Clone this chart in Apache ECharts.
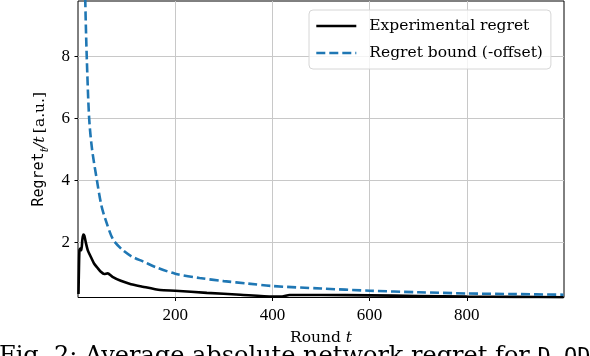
<!DOCTYPE html>
<html>
<head>
<meta charset="utf-8">
<script src="https://cdn.jsdelivr.net/npm/echarts@6/dist/echarts.min.js"></script>
<style>
html,body{margin:0;padding:0;background:#fff;}
#c{width:590px;height:356px;}
</style>
</head>
<body>
<div id="c"></div>
<script>
// ---- data ----
var xTicks = [200, 400, 600, 800];
var yTicks = [2, 4, 6, 8];
var seriesNames = ['Experimental regret', 'Regret bound (-offset)'];
var expT = [1, 2, 3, 5, 7, 9, 11, 13, 16, 20, 23, 28, 33, 40, 47, 54, 61, 71, 88, 109, 133, 169, 200, 265, 334, 400, 420, 435, 500, 600, 700, 800, 900, 999];
var expV = [0.33, 1.2, 1.75, 1.8, 1.75, 2.1, 2.25, 2.22, 2.0, 1.75, 1.64, 1.48, 1.32, 1.18, 1.05, 0.98, 1.0, 0.89, 0.76, 0.65, 0.57, 0.46, 0.44, 0.37, 0.31, 0.25, 0.25, 0.3, 0.3, 0.29, 0.27, 0.25, 0.24, 0.23];
var bndT = [10, 15, 18, 23, 29, 39, 48, 57, 72, 90, 110, 136, 160, 200, 250, 300, 350, 400, 500, 600, 700, 800, 900, 999];
var bndV = [14.5, 9.8, 8.0, 6.0, 5.0, 4.0, 3.2, 2.72, 2.1, 1.78, 1.55, 1.37, 1.2, 0.99, 0.85, 0.75, 0.67, 0.59, 0.51, 0.44, 0.39, 0.35, 0.33, 0.31];
var xRange = [0, 1000];
var yRange = [0.22, 9.8];

function pairs(a, b) { return a.map(function (v, i) { return [v, b[i]]; }); }

var SERIF = '"DejaVu Serif", "Liberation Serif", serif';
var NUM = '"Liberation Serif", "DejaVu Serif", serif';
var MONO = '"DejaVu Sans Mono", "Liberation Mono", monospace';

var chart = echarts.init(document.getElementById('c'), null, { renderer: 'canvas' });
var gridLine = { show: true, lineStyle: { color: '#c8c8c8', width: 1 } };
chart.setOption({
  animation: false,
  backgroundColor: '#fff',
  grid: { left: 78, right: 26, top: 1, height: 296.5, show: true, borderColor: '#000', borderWidth: 1, backgroundColor: 'transparent' },
  legend: {
    orient: 'vertical', left: 309, top: 10,
    data: seriesNames,
    itemWidth: 40, itemHeight: 14, itemGap: 11,
    padding: [8, 8, 8, 6],
    backgroundColor: 'rgba(255,255,255,0.8)',
    borderColor: '#d6d6d6', borderWidth: 1, borderRadius: 4,
    itemStyle: { opacity: 0 },
    lineStyle: { width: 2.6 },
    textStyle: { fontFamily: SERIF, fontSize: 15.5, color: '#000', padding: [0, 0, 0, 8], lineHeight: 16 }
  },
  xAxis: {
    type: 'value', min: xRange[0], max: xRange[1],
    axisLine: { show: false },
    axisTick: { show: true, inside: false, length: 3.5, customValues: xTicks, lineStyle: { color: '#000', width: 1 } },
    axisLabel: { customValues: xTicks, fontFamily: NUM, fontSize: 17, color: '#000', margin: 10 },
    splitLine: Object.assign({ customValues: xTicks }, gridLine),
    name: '{r|Round }{i|t}', nameLocation: 'middle', nameGap: 32,
    nameTextStyle: { rich: { r: { fontFamily: SERIF, fontSize: 15.5, color: '#000' }, i: { fontFamily: SERIF, fontStyle: 'italic', fontSize: 15.5, color: '#000' } } }
  },
  yAxis: {
    type: 'value', min: yRange[0], max: yRange[1],
    axisLine: { show: false },
    axisTick: { show: true, inside: false, length: 3.5, customValues: yTicks, lineStyle: { color: '#000', width: 1 } },
    axisLabel: { customValues: yTicks, fontFamily: NUM, fontSize: 17, color: '#000', margin: 8 },
    splitLine: Object.assign({ customValues: yTicks }, gridLine),
    name: '{m|Regret}{s|t}{i|/t} {r|[a.u.]}', nameLocation: 'middle', nameGap: 24,
    nameTextStyle: {
      rich: {
        m: { fontFamily: MONO, fontSize: 15, color: '#000', lineHeight: 22, verticalAlign: 'middle' },
        s: { fontFamily: SERIF, fontStyle: 'italic', fontSize: 11, color: '#000', lineHeight: 22, verticalAlign: 'bottom' },
        i: { fontFamily: SERIF, fontStyle: 'italic', fontSize: 15.5, color: '#000', lineHeight: 22, verticalAlign: 'middle' },
        r: { fontFamily: SERIF, fontSize: 15.5, color: '#000', lineHeight: 22, verticalAlign: 'middle' }
      }
    }
  },
  series: [
    {
      name: seriesNames[0], type: 'line', data: pairs(expT, expV), showSymbol: false, symbol: 'none',
      smooth: 0.2, clip: true, z: 3,
      lineStyle: { color: '#000', width: 2.6 }, itemStyle: { color: '#000' }
    },
    {
      name: seriesNames[1], type: 'line', data: pairs(bndT, bndV), showSymbol: false, symbol: 'none',
      smooth: 0.3, clip: true, z: 3,
      lineStyle: { color: '#1f77b4', width: 2.6, type: [9, 4] }, itemStyle: { color: '#1f77b4' }
    }
  ],
  graphic: [{
    type: 'text', left: -1, top: 345, silent: true,
    style: {
      text: '{r|Fig. 2: Average absolute network regret for }{m|D-ODWD}',
      rich: {
        r: { fontFamily: SERIF, fontSize: 24, fill: '#000' },
        m: { fontFamily: MONO, fontSize: 22, fill: '#000' }
      }
    }
  }]
});
</script>
</body>
</html>
